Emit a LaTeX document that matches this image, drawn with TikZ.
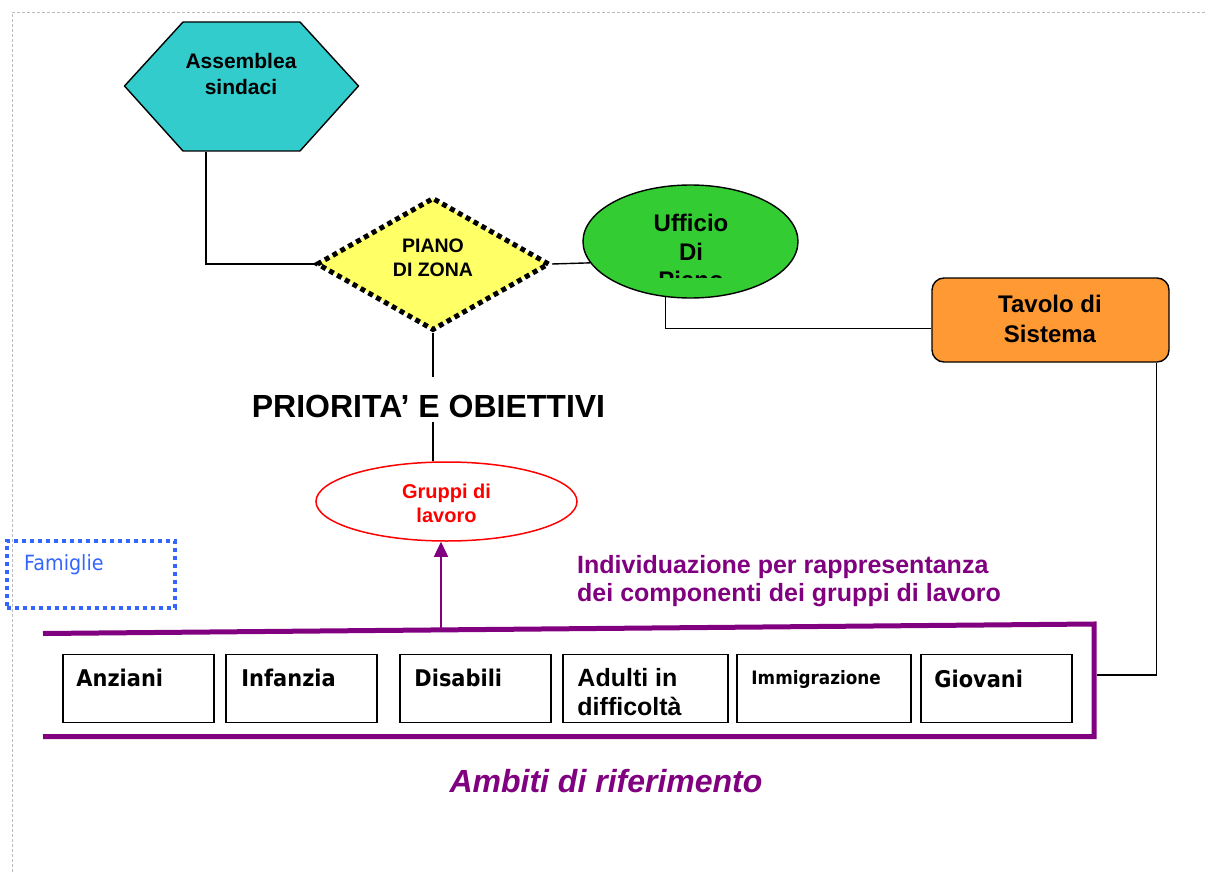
\documentclass[tikz,border=0pt]{standalone}
\usepackage{fontspec}
\setmainfont{Liberation Sans}
\newfontfamily\tah[FakeStretch=0.91]{DejaVu Sans}
\usetikzlibrary{shapes.geometric,arrows.meta,calc}
\definecolor{tealA}{HTML}{33CCCC}
\definecolor{yelA}{HTML}{FFFF66}
\definecolor{grnA}{HTML}{33CC33}
\definecolor{orgA}{HTML}{FF9933}
\definecolor{purA}{HTML}{800080}
\definecolor{redA}{HTML}{FF0000}
\definecolor{bluA}{HTML}{3366FF}
\definecolor{grayA}{HTML}{BBBBBB}
\newcommand\myfs[2]{\fontsize{#1}{#2}\selectfont}
\tikzset{
  conn/.style={draw=black, line width=1.4pt},
  tl/.style={inner sep=0pt, align=center, anchor=north},
  ambbox/.style={draw=black, line width=1.5pt, minimum width=151pt, minimum height=68pt, inner sep=0pt},
  ambtxt/.style={inner sep=0pt, anchor=north west, align=left, font=\tah\myfs{23}{28}\bfseries},
}
\begin{document}
\begin{tikzpicture}[x=1pt,y=-1pt]
\useasboundingbox (0,0) rectangle (1205,872);
\fill[white] (0,0) rectangle (1205,872);
% page border
\draw[grayA, line width=0.8pt, dash pattern=on 3pt off 2pt] (12,872) -- (12,12) -- (1205,12);

% Assemblea sindaci (hexagon)
\draw[fill=tealA, line width=1.4pt] (124.5,86) -- (183,22) -- (300,22) -- (358.5,86) -- (300,151) -- (183,151) -- cycle;
\node[tl, font=\myfs{21}{26}\bfseries] (asm) at (241,53) {Assemblea\\sindaci};
\coordinate (asmb) at (206,152);

% Piano di zona (diamond)
\node[diamond, draw=black, fill=yelA, line width=5pt, dash pattern=on 5pt off 4pt,
      minimum width=233pt, minimum height=133pt, shape aspect=1.75, inner sep=0pt] (pz) at (433,264) {};
\node[tl, font=\myfs{19.5}{24}\bfseries] (pztxt) at (433,239) {PIANO\\DI ZONA};

% Ufficio di Piano
\node[ellipse, draw=black, fill=grnA, line width=1.4pt, minimum width=215pt, minimum height=113pt, inner sep=0pt] (uff) at (690.5,241.5) {};
\begin{scope}
  \clip (570,150) rectangle (820,277);
  \node[tl, font=\myfs{24}{28.5}\bfseries] (ufftxt) at (691,214) {Ufficio\\Di\\Piano};
\end{scope}

% Tavolo di Sistema
\node[draw=black, fill=orgA, line width=1.4pt, rounded corners=12pt, minimum width=237pt, minimum height=84pt, inner sep=0pt] (tav) at (1050.5,320) {};
\node[tl, font=\myfs{24}{29.5}\bfseries] (tavtxt) at (1050,295) {Tavolo di\\Sistema};

% Priorita
\node[inner sep=0pt, text height=35pt, text depth=0pt, minimum height=45pt, font=\myfs{32}{38}\bfseries] (prio) at (428.5,399.5) {PRIORITA’ E OBIETTIVI};

% Gruppi di lavoro
\node[ellipse, draw=redA, fill=white, line width=1.5pt, minimum width=261pt, minimum height=79pt, inner sep=0pt] (grp) at (446.5,501.5) {};
\node[tl, text=redA, font=\myfs{20}{24}\bfseries] (grptxt) at (446.5,484) {Gruppi di\\lavoro};

% Famiglie
\node[draw=bluA, line width=4pt, dash pattern=on 4pt off 4pt, minimum width=168pt, minimum height=67pt, inner sep=0pt] (fam) at (91,574.5) {};
\node[inner sep=0pt, anchor=north west, text=bluA, font=\tah\myfs{21}{25}] (famtxt) at (24,554) {Famiglie};

% Individuazione text
\node[inner sep=0pt, anchor=north west, align=left, text=purA, font=\myfs{25}{28}\bfseries] (ind) at (577,555) {Individuazione per rappresentanza\\dei componenti dei gruppi di lavoro};

% Ambiti frame
\draw[purA, line width=5pt, line join=miter] (43,633.5) -- (1094,624) -- (1094,736.5) -- (43,736.5);
\coordinate (arrb) at (441,628);
\coordinate (frameR) at (1096.5,675);

% Ambiti boxes
\node[ambbox] (anz) at (138.5,688.5) {};
\node[ambbox] (inf) at (301.5,688.5) {};
\node[ambbox] (dis) at (475.5,688.5) {};
\node[ambbox, minimum width=165pt] (adu) at (645.5,688.5) {};
\node[ambbox, minimum width=174pt] (imm) at (824,688.5) {};
\node[ambbox] (gio) at (996.5,688.5) {};
\node[ambtxt] (anzt) at ($(anz.north west)+(14,15)$) {Anziani};
\node[ambtxt] (inft) at ($(inf.north west)+(16,15)$) {Infanzia};
\node[ambtxt] (dist) at ($(dis.north west)+(15,15)$) {Disabili};
\node[ambtxt, font=\myfs{25}{29}\bfseries] (adut) at ($(adu.north west)+(15,14)$) {Adulti in\\difficoltà};
\node[ambtxt, font=\tah\myfs{18.5}{22}\bfseries] (immt) at ($(imm.north west)+(15,16)$) {Immigrazione};
\node[ambtxt] (giot) at ($(gio.north west)+(14,16)$) {Giovani};

\node[inner sep=0pt, text=purA, font=\myfs{32}{38}\bfseries\itshape] (amb) at (606,781) {Ambiti di riferimento};

% connectors
\draw[conn] (asmb) |- (pz.west);
\draw[conn] (pz.east) -- (uff.192);
\draw[conn] (uff.246) |- (tav.184);
\draw[conn] ($(tav.south east)+(-13,0)$) |- (frameR);
\draw[conn] (pz.south) -- (pz.south |- prio.north);
\draw[conn] (pz.south |- prio.south) -- (pz.south |- grp.north);
\draw[purA, line width=1.5pt, -{Triangle[length=15pt, width=14pt]}] (arrb) -- (arrb |- grp.south);
\end{tikzpicture}
\end{document}
